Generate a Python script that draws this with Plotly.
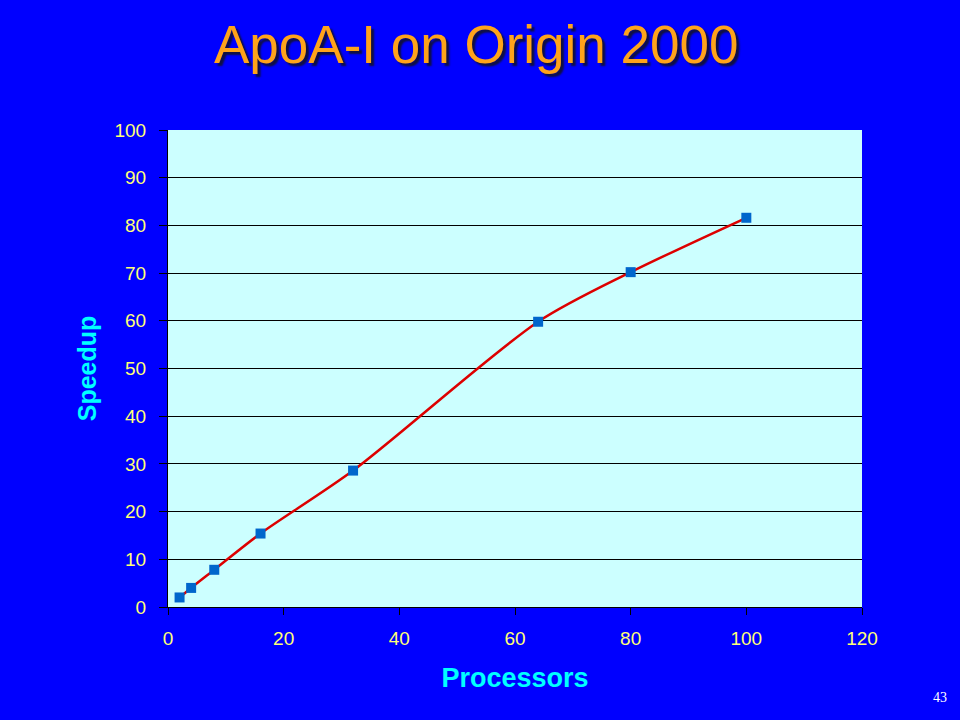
import plotly.graph_objects as go

processors = [2, 4, 8, 16, 32, 64, 80, 100]
speedup = [2.0, 4.0, 7.8, 15.4, 28.6, 59.8, 70.2, 81.6]
x_ticks = [0, 20, 40, 60, 80, 100, 120]
y_ticks = [0, 10, 20, 30, 40, 50, 60, 70, 80, 90, 100]

L, R, T, B = 168, 862, 130, 607
W, H = R - L, B - T

fig = go.Figure()
fig.add_trace(go.Scatter(
    x=processors, y=speedup, mode="lines+markers",
    line=dict(color="#DD0000", width=2.5, shape="spline", smoothing=0.8),
    marker=dict(symbol="square", size=10, color="#0066CC"),
    showlegend=False,
))

fig.update_layout(
    width=960, height=720,
    paper_bgcolor="#0000FF", plot_bgcolor="#CCFFFF",
    margin=dict(l=L, r=960 - R, t=T, b=720 - B),
    font=dict(family="Arial, Liberation Sans, sans-serif"),
    xaxis=dict(range=[0, 120], tickvals=x_ticks, showgrid=False, zeroline=False,
               showline=True, linecolor="black", linewidth=1,
               ticks="outside", tickcolor="black", ticklen=7,
               ticklabelstandoff=7,
               tickfont=dict(size=19, color="#FFFF77"),
               title=dict(text="<b>Processors</b>", font=dict(size=27, color="#00FFFF"), standoff=20)),
    yaxis=dict(range=[0, 100], tickvals=y_ticks, showgrid=True, gridcolor="black", gridwidth=1,
               zeroline=False, showline=True, linecolor="black", linewidth=1,
               ticks="outside", tickcolor="black", ticklen=8,
               ticklabelstandoff=9,
               tickfont=dict(size=19, color="#FFFF77"),
               title=dict(text="<b>Speedup</b>", font=dict(size=25, color="#00FFFF"), standoff=10)),
    annotations=[
        dict(text="ApoA-I on Origin 2000", xref="paper", yref="paper",
             x=(476 - L) / W, y=(B - 45) / H, xanchor="center", yanchor="middle",
             showarrow=False,
             font=dict(size=53, color="#FFA31A", shadow="3px 3px 2px #101040")),
        dict(text="43", xref="paper", yref="paper",
             x=(940 - L) / W, y=(B - 697) / H, xanchor="center", yanchor="middle",
             showarrow=False, font=dict(size=14, color="white", family="Liberation Serif, serif")),
    ],
)

fig.write_html("out.html", config={"displayModeBar": False},
               post_script="document.body.style.margin='0';document.body.style.background='#0000FF';")
